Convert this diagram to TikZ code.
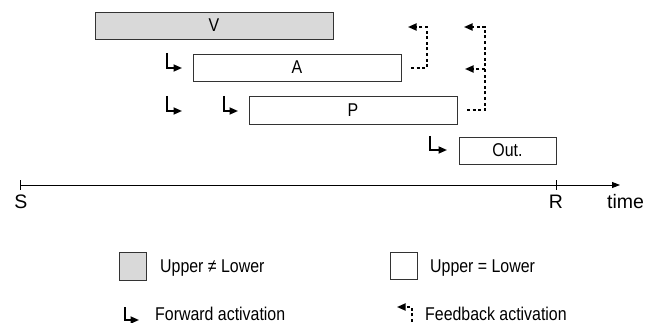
\documentclass[tikz,border=0pt]{standalone}
\usepackage{fontspec}
\setmainfont{Liberation Sans}
\newfontfamily\narrowsans[FakeStretch=0.86]{Liberation Sans}
\usetikzlibrary{arrows.meta}
\definecolor{boxgray}{HTML}{D9D9D9}
\definecolor{edge}{HTML}{333333}
\begin{document}
\begin{tikzpicture}[x=1pt,y=-1pt,
  lbl/.style={font=\narrowsans\fontsize{18.5}{20}\selectfont},
  box/.style={draw=edge, line width=0.9pt, inner sep=0pt, outer sep=0pt, anchor=north west, minimum height=27pt, lbl},
  gbox/.style={box, fill=boxgray},
  fwd/.style={line width=1.7pt, -{Triangle[length=8.5pt,width=7pt]}},
  fb/.style={line width=1.7pt, dash pattern=on 3pt off 2.6pt, -{Triangle[length=8.5pt,width=7pt]}},
  axis/.style={line width=0.9pt, -{Triangle[length=8pt,width=6pt]}},
  tick/.style={line width=0.9pt},
  axlbl/.style={font=\fontsize{19.5}{22}\selectfont, inner sep=0pt, anchor=base},
  legtext/.style={lbl, inner sep=0pt, anchor=base west}
]
\useasboundingbox (0,0) rectangle (660,323);

% boxes
\node[gbox, minimum width=238pt] (V) at (95,12) {V};
\node[box, minimum width=208pt] (A) at (193,54) {A};
\node[box, minimum width=208pt, minimum height=28pt] (P) at (249,96) {P};
\node[box, minimum width=97pt] (Out) at (459,137) {Out.};

% forward activations
\coordinate (fA0) at (167,53);  \coordinate (fA1) at (182,68);
\coordinate (fP0) at (167,96);  \coordinate (fP1) at (182,111);
\coordinate (fP2) at (224,96);  \coordinate (fP3) at (238,111);
\coordinate (fO0) at (430,136); \coordinate (fO1) at (447,150);
\draw[fwd] (fA0) |- (fA1);
\draw[fwd] (fP0) |- (fP1);
\draw[fwd] (fP2) |- (fP3);
\draw[fwd] (fO0) |- (fO1);

% feedback activations
\coordinate (bA0) at (411,68);  \coordinate (bA1) at (427,27);  \coordinate (bA2) at (408,27);
\coordinate (bP0) at (467,110); \coordinate (bP1) at (485,27);  \coordinate (bP2) at (464,27);
\coordinate (bP3) at (485,69);  \coordinate (bP4) at (465,69);
\draw[fb] (bA0) -| (bA1) -- (bA2);
\draw[fb] (bP0) -| (bP1) -- (bP2);
\draw[fb] (bP3) -- (bP4);

% time axis
\coordinate (ax0) at (20,185);
\coordinate (ax1) at (620,185);
\coordinate (tS0) at (20,180); \coordinate (tS1) at (20,190);
\coordinate (tR0) at (556,180); \coordinate (tR1) at (556,190);
\draw[axis] (ax0) -- (ax1);
\draw[tick] (tS0) -- (tS1);
\draw[tick] (tR0) -- (tR1);
\node[axlbl] (S) at (21,208) {S};
\node[axlbl] (R) at (556,208) {R};
\node[axlbl, anchor=base west] (time) at (607,208) {time};

% legend
\node[gbox, minimum width=27pt, minimum height=28pt] (lg) at (119,252) {};
\node[legtext] (lgt) at (160,272) {Upper ≠ Lower};
\node[box, minimum width=27pt, minimum height=27pt] (lw) at (390,252) {};
\node[legtext] (lwt) at (430,272) {Upper = Lower};
\coordinate (lf0) at (125,307); \coordinate (lf1) at (139,320);
\draw[fwd] (lf0) |- (lf1);
\node[legtext] (lft) at (155,320) {Forward activation};
\coordinate (lb0) at (412,322); \coordinate (lb1) at (412,307); \coordinate (lb2) at (397,307);
\draw[fb] (lb0) -- (lb1) -- (lb2);
\node[legtext] (lbt) at (425,320) {Feedback activation};
\end{tikzpicture}
\end{document}
